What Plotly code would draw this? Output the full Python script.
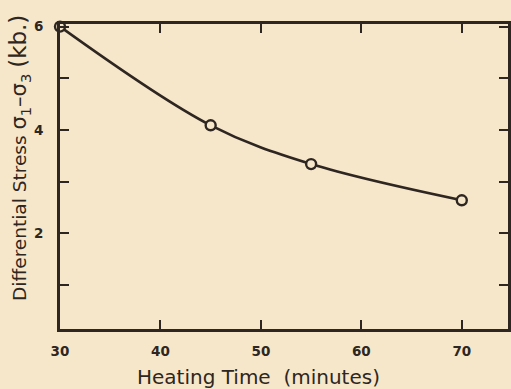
import plotly.graph_objects as go

heating_time = [30, 45, 55, 70]
stress = [6.0, 4.09, 3.34, 2.64]

x_ticks = [30, 40, 50, 60, 70]
x_tick_labels = ["30", "40", "50", "60", "70"]
y_ticks = [1, 2, 3, 4, 5, 6]
y_tick_labels = ["", "2", "", "4", "", "6"]

ink = "#2e2620"
bg = "#f6e6ca"
font = "DejaVu Sans"

fig = go.Figure()
fig.add_trace(go.Scatter(
    x=heating_time, y=stress, mode="lines+markers",
    line=dict(color=ink, width=2.6, shape="spline", smoothing=1.0),
    marker=dict(symbol="circle", size=10, color=bg, line=dict(color=ink, width=2.4)),
    cliponaxis=False, showlegend=False,
))

axis_common = dict(
    showgrid=False, zeroline=False, showline=True, linecolor=ink, linewidth=2.6,
    ticks="inside", ticklen=9, tickwidth=2, tickcolor=ink, mirror="ticks",
    tickfont=dict(family=font, size=13.5, color=ink, weight="bold"),
    automargin=False,
)
fig.update_xaxes(range=[30, 74.6], tickvals=x_ticks, ticktext=x_tick_labels,
                 ticklabelstandoff=8, **axis_common)
fig.update_yaxes(range=[0.15, 6.05], tickvals=y_ticks, ticktext=y_tick_labels,
                 ticklabelstandoff=11, **axis_common)

fig.add_annotation(text="Heating Time  (minutes)", xref="paper", yref="paper",
                   x=0.442, y=-0.11, xanchor="center", yanchor="top", showarrow=False,
                   font=dict(family=font, size=20, color=ink))
fig.add_annotation(
    text=("Differential Stress "
          "<span style='font-size:21px'>σ<sub>1</sub>–σ<sub>3</sub></span> "
          "<span style='font-size:23px'>(kb.)</span>"),
    xref="paper", yref="paper", x=-0.09, y=0.56, textangle=-90,
    xanchor="center", yanchor="middle", showarrow=False,
    font=dict(family=font, size=18.5, color=ink))

fig.update_layout(
    width=511, height=389, margin=dict(l=60, r=3, t=24, b=60),
    paper_bgcolor=bg, plot_bgcolor=bg,
)
fig.write_html(
    "out.html",
    config={"displayModeBar": False},
    post_script="document.body.style.margin='0';document.body.style.overflow='hidden';",
)
